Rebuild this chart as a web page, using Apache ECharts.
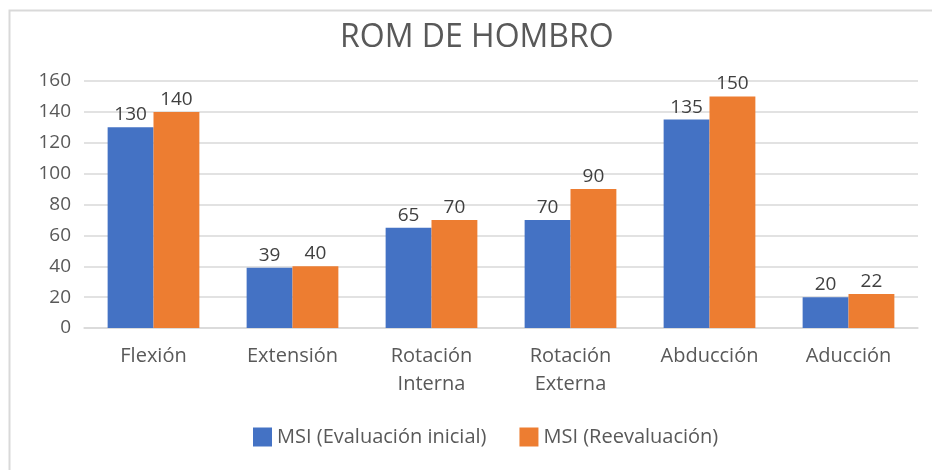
<!DOCTYPE html>
<html><head><meta charset="utf-8">
<script src="https://cdn.jsdelivr.net/npm/echarts@6/dist/echarts.min.js"></script>
<style>html,body{margin:0;padding:0;background:#fff}#c{width:932px;height:470px}</style>
</head><body><div id="c"></div>
<script>
const categories = ['Flexión', 'Extensión', 'Rotación\nInterna', 'Rotación\nExterna', 'Abducción', 'Aducción'];
const seriesNames = ['MSI (Evaluación inicial)', 'MSI (Reevaluación)'];
const initial = [130, 39, 65, 70, 135, 20];
const reeval = [140, 40, 70, 90, 150, 22];
const yTicks = [0, 20, 40, 60, 80, 100, 120, 140, 160];

const FONT = '"Open Sans", "Liberation Sans", sans-serif';
const chart = echarts.init(document.getElementById('c'));
chart.setOption({
  animation: false,
  textStyle: { fontFamily: FONT },
  title: { text: 'ROM DE HOMBRO', left: 335, top: 17,
    textStyle: { fontFamily: FONT, fontSize: 32, fontWeight: 'normal', color: '#595959' } },
  graphic: [{ type: 'rect', shape: { x: 9.5, y: 10.5, width: 940, height: 480 },
    style: { fill: 'none', stroke: '#d9d9d9', lineWidth: 2 }, silent: true }],
  legend: { bottom: 18, left: 248, itemWidth: 19, itemHeight: 19, itemGap: 33,
    icon: 'rect',
    textStyle: { fontFamily: FONT, fontSize: 20, color: '#595959' } },
  grid: { left: 84, right: 14, top: 81, bottom: 142 },
  xAxis: { type: 'category', data: categories,
    axisLine: { show: true, lineStyle: { color: '#d9d9d9', width: 1.5 } },
    axisTick: { show: false },
    axisLabel: { fontFamily: FONT, fontSize: 20, color: '#595959', margin: 14, lineHeight: 28, interval: 0 } },
  yAxis: { type: 'value', min: yTicks[0], max: yTicks[yTicks.length - 1], interval: 20,
    axisLine: { show: false }, axisTick: { show: false },
    splitLine: { lineStyle: { color: '#d9d9d9', width: 1.5 } },
    axisLabel: { fontFamily: FONT, fontSize: 19, color: '#595959', margin: 13, align: 'right' } },
  series: [
    { name: seriesNames[0], type: 'bar', data: initial, barWidth: '33%', barGap: '0%',
      itemStyle: { color: '#4472c4' },
      label: { show: true, position: 'top', distance: 3, fontFamily: FONT, fontSize: 19, color: '#404040' } },
    { name: seriesNames[1], type: 'bar', data: reeval, barWidth: '33%', barGap: '0%',
      itemStyle: { color: '#ed7d31' },
      label: { show: true, position: 'top', distance: 3, fontFamily: FONT, fontSize: 19, color: '#404040' } }
  ]
});
</script></body></html>
